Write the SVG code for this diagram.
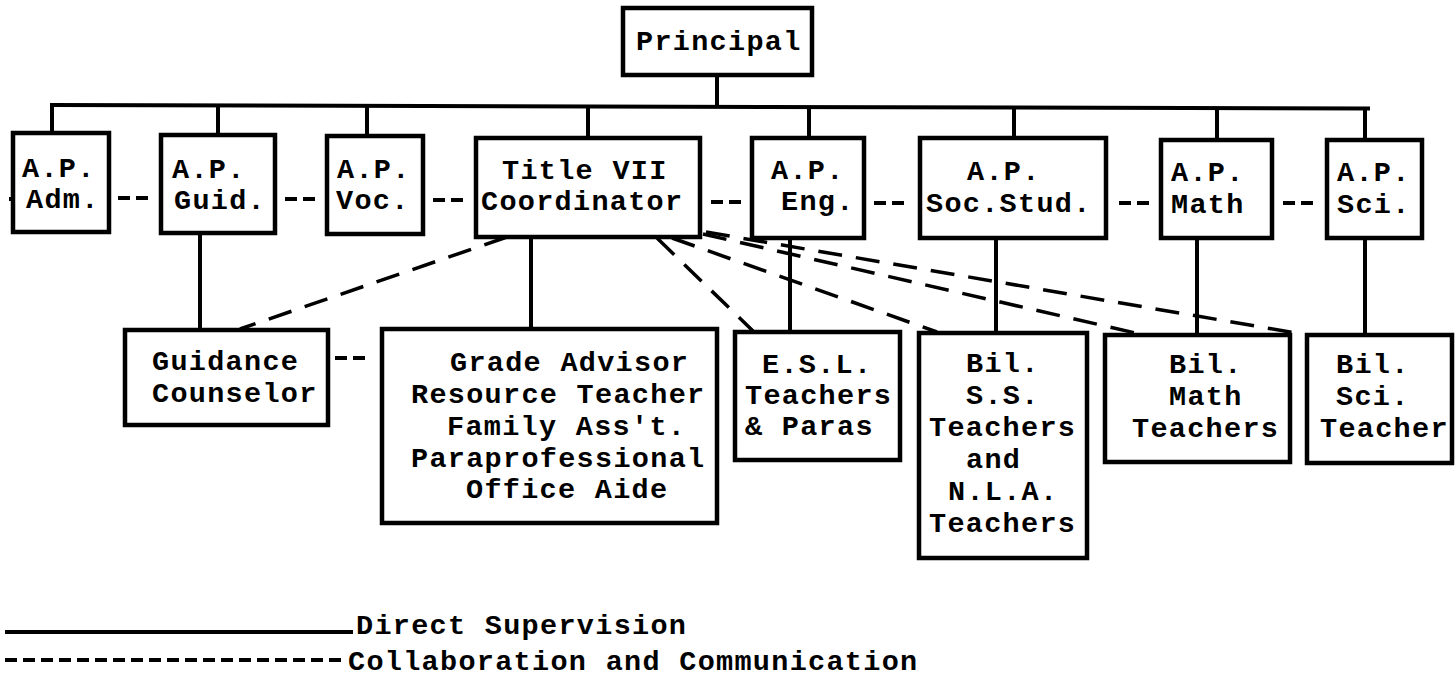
<svg xmlns="http://www.w3.org/2000/svg" width="1456" height="699" viewBox="0 0 1456 699">
<defs>
<style>
.box{fill:#fff;stroke:#000;stroke-width:4.5}
.t{font-family:"Liberation Mono","Courier New",monospace;font-weight:bold;font-size:28.5px;letter-spacing:1.3px;fill:#000}
.sup{stroke:#000;stroke-width:4;fill:none}
.col{stroke:#000;stroke-width:3.5;fill:none;stroke-dasharray:24 14}
.dd{stroke:#000;stroke-width:4;fill:none;stroke-dasharray:12 6}
</style>
</defs>
<rect width="1456" height="699" fill="#fff"/>
<g id="connectors">
<line class="sup" x1="717" y1="75" x2="717" y2="107"/>
<line class="sup" x1="50" y1="105" x2="1370" y2="108.5"/>
<line class="sup" x1="52" y1="105" x2="52" y2="133"/>
<line class="sup" x1="218" y1="105.5" x2="218" y2="135"/>
<line class="sup" x1="367" y1="106" x2="367" y2="136"/>
<line class="sup" x1="588" y1="106.5" x2="588" y2="138"/>
<line class="sup" x1="809" y1="107" x2="809" y2="138"/>
<line class="sup" x1="1014" y1="107.5" x2="1014" y2="138"/>
<line class="sup" x1="1217" y1="108" x2="1217" y2="140"/>
<line class="sup" x1="1365" y1="108.5" x2="1365" y2="140"/>
<line class="sup" x1="200" y1="233" x2="200" y2="330"/>
<line class="sup" x1="531" y1="237" x2="531" y2="329"/>
<line class="sup" x1="790" y1="238" x2="790" y2="332"/>
<line class="sup" x1="996" y1="238" x2="996" y2="333"/>
<line class="sup" x1="1197" y1="238" x2="1197" y2="335"/>
<line class="sup" x1="1365" y1="238" x2="1365" y2="335"/>
<line class="dd" x1="9" y1="199" x2="21" y2="199"/>
<line class="dd" x1="118" y1="198" x2="150" y2="198"/>
<line class="dd" x1="285" y1="199" x2="317" y2="199"/>
<line class="dd" x1="433" y1="200" x2="465" y2="200"/>
<line class="dd" x1="711" y1="202" x2="743" y2="202"/>
<line class="dd" x1="874" y1="203" x2="906" y2="203"/>
<line class="dd" x1="1119" y1="203" x2="1151" y2="203"/>
<line class="dd" x1="1283" y1="203" x2="1315" y2="203"/>
<line class="dd" x1="335" y1="358" x2="367" y2="358"/>
<line class="col" x1="507" y1="237" x2="240" y2="329"/>
<line class="col" x1="657" y1="238" x2="753" y2="331"/>
<line class="col" x1="672" y1="238" x2="937" y2="332"/>
<line class="col" x1="703" y1="234" x2="1140" y2="334"/>
<line class="col" x1="706" y1="232" x2="1302" y2="334"/>
</g>
<g id="principal">
<rect class="box" x="623" y="8" width="189" height="67"/>
<text class="t" x="636" y="50">Principal</text>
</g>
<g id="ap-adm">
<rect class="box" x="13" y="133" width="96" height="99"/>
<text class="t" x="22" y="177">A.P.</text>
<text class="t" x="26" y="208">Adm.</text>
</g>
<g id="ap-guid">
<rect class="box" x="161" y="135" width="114" height="98"/>
<text class="t" x="172" y="178">A.P.</text>
<text class="t" x="174" y="209">Guid.</text>
</g>
<g id="ap-voc">
<rect class="box" x="327" y="136" width="96" height="98"/>
<text class="t" x="337" y="178">A.P.</text>
<text class="t" x="336" y="209">Voc.</text>
</g>
<g id="title-vii">
<rect class="box" x="476" y="138" width="224" height="99"/>
<text class="t" x="502" y="179">Title VII</text>
<text class="t" x="481" y="210">Coordinator</text>
</g>
<g id="ap-eng">
<rect class="box" x="752" y="138" width="112" height="100"/>
<text class="t" x="771" y="179">A.P.</text>
<text class="t" x="781" y="210">Eng.</text>
</g>
<g id="ap-soc">
<rect class="box" x="920" y="138" width="186" height="100"/>
<text class="t" x="967" y="180">A.P.</text>
<text class="t" x="926" y="212">Soc.Stud.</text>
</g>
<g id="ap-math">
<rect class="box" x="1161" y="140" width="111" height="98"/>
<text class="t" x="1171" y="181">A.P.</text>
<text class="t" x="1171" y="213">Math</text>
</g>
<g id="ap-sci">
<rect class="box" x="1327" y="140" width="95" height="98"/>
<text class="t" x="1337" y="181">A.P.</text>
<text class="t" x="1337" y="213">Sci.</text>
</g>
<g id="guidance">
<rect class="box" x="125" y="330" width="203" height="95"/>
<text class="t" x="152" y="370">Guidance</text>
<text class="t" x="152" y="402">Counselor</text>
</g>
<g id="grade-advisor">
<rect class="box" x="382" y="329" width="335" height="194"/>
<text class="t" x="450" y="371">Grade Advisor</text>
<text class="t" x="411" y="403">Resource Teacher</text>
<text class="t" x="447" y="435">Family Ass't.</text>
<text class="t" x="411" y="467">Paraprofessional</text>
<text class="t" x="466" y="498">Office Aide</text>
</g>
<g id="esl">
<rect class="box" x="735" y="332" width="165" height="128"/>
<text class="t" x="762" y="373">E.S.L.</text>
<text class="t" x="745" y="404">Teachers</text>
<text class="t" x="745" y="435">&amp; Paras</text>
</g>
<g id="bil-ss">
<rect class="box" x="919" y="333" width="168" height="225"/>
<text class="t" x="966" y="372">Bil.</text>
<text class="t" x="966" y="404">S.S.</text>
<text class="t" x="929" y="436">Teachers</text>
<text class="t" x="966" y="468">and</text>
<text class="t" x="948" y="500">N.L.A.</text>
<text class="t" x="929" y="532">Teachers</text>
</g>
<g id="bil-math">
<rect class="box" x="1105" y="335" width="185" height="127"/>
<text class="t" x="1169" y="373">Bil.</text>
<text class="t" x="1169" y="405">Math</text>
<text class="t" x="1132" y="437">Teachers</text>
</g>
<g id="bil-sci">
<rect class="box" x="1307" y="335" width="145" height="128"/>
<text class="t" x="1336" y="373">Bil.</text>
<text class="t" x="1336" y="405">Sci.</text>
<text class="t" x="1320" y="437">Teacher</text>
</g>
<g id="legend">
<line class="sup" x1="5" y1="632" x2="353" y2="632"/>
<text class="t" x="356" y="634">Direct Supervision</text>
<line class="dd" x1="5" y1="660" x2="345" y2="660"/>
<text class="t" x="348" y="670">Collaboration and Communication</text>
</g>
</svg>
